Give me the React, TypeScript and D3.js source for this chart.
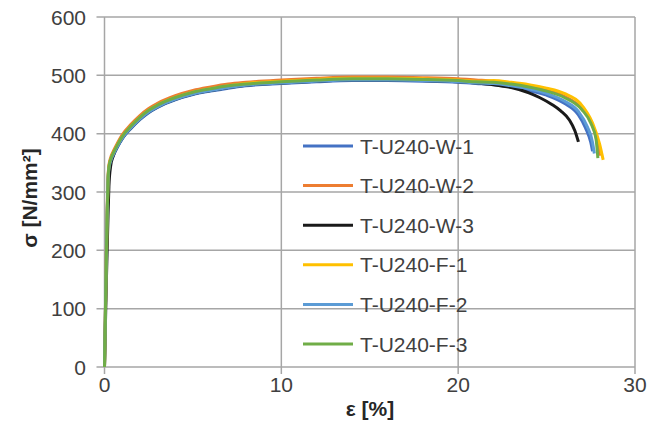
import React from "react";
import * as d3 from "d3";

const W = 664;
const H = 430;

const xTicks = [0, 10, 20, 30];
const yTicks = [0, 100, 200, 300, 400, 500, 600];

const seriesNames = ["T-U240-W-1", "T-U240-W-2", "T-U240-W-3", "T-U240-F-1", "T-U240-F-2", "T-U240-F-3"];
const seriesColors = ["#4472C4", "#ED7D31", "#1a1a1a", "#FFC000", "#5B9BD5", "#70AD47"];

// shared strain grid for the rising part [%]
const strainRise = [0, 0.05, 0.1, 0.15, 0.2, 0.25, 0.35, 0.5, 0.75, 1, 1.5, 2, 2.5, 3, 4, 5, 6, 7, 8, 10, 12, 14, 16, 18, 20, 21];

// stress on the rising part [N/mm²]
const w1Rise = [0, 90, 180, 260, 318, 339, 352, 363, 378, 391, 409, 424, 436, 445, 458, 467, 473, 478, 482, 486, 489, 491, 491, 490, 488, 486];
const w2Rise = [0, 95, 190, 270, 326, 346, 359, 370, 385, 398, 416, 431, 443, 452, 465, 474, 480, 485, 488, 492, 495, 497, 497, 496, 494, 492];
const w3Rise = [0, 70, 140, 200, 260, 310, 345, 362, 379, 392, 410, 425, 437, 446, 459, 468, 474, 479, 483, 487, 490, 492, 492, 491, 489, 487];
const f1Rise = [0, 88, 176, 255, 318, 343, 356, 367, 382, 395, 413, 428, 440, 449, 462, 471, 477, 482, 486, 490, 493, 495, 495, 494, 492, 490];
const f2Rise = [0, 92, 184, 262, 320, 340, 353, 364, 379, 392, 410, 425, 437, 446, 459, 468, 474, 479, 483, 487, 490, 492, 492, 491, 489, 487];
const f3Rise = [0, 90, 180, 260, 322, 343, 356, 367, 382, 395, 413, 428, 440, 449, 462, 471, 477, 482, 485, 489, 492, 494, 494, 493, 491, 489];

// necking / fracture tails
const w1TailStrain = [22, 23, 24, 25, 26, 26.8, 27.2, 27.5, 27.6];
const w1TailStress = [484, 480, 474, 466, 452, 432, 410, 385, 370];
const w2TailStrain = [22, 23, 24, 25, 26, 27, 27.5, 27.8, 28.0];
const w2TailStress = [490, 487, 482, 475, 464, 443, 422, 395, 362];
const w3TailStrain = [22, 23, 24, 24.6, 25.3, 25.8, 26.3, 26.6, 26.8];
const w3TailStress = [484, 479, 470, 462, 450, 439, 423, 405, 386];
const f1TailStrain = [22, 23, 24, 25, 26, 26.9, 27.6, 28.0, 28.2];
const f1TailStress = [491, 488, 484, 478, 469, 452, 418, 382, 355];
const f2TailStrain = [22, 23, 24, 25, 26, 26.8, 27.3, 27.6, 27.7];
const f2TailStress = [486, 482, 477, 469, 456, 438, 412, 385, 366];
const f3TailStrain = [22, 23, 24, 25, 26, 27, 27.5, 27.8, 27.9];
const f3TailStress = [488, 485, 480, 473, 462, 441, 418, 390, 358];

const rises = [w1Rise, w2Rise, w3Rise, f1Rise, f2Rise, f3Rise];
const tailStrains = [w1TailStrain, w2TailStrain, w3TailStrain, f1TailStrain, f2TailStrain, f3TailStrain];
const tailStresses = [w1TailStress, w2TailStress, w3TailStress, f1TailStress, f2TailStress, f3TailStress];

const FONT = "'Liberation Sans', Arial, sans-serif";

export default function App() {
  const left = 104.5;
  const right = 635;
  const top = 17;
  const bottom = 367;
  const x = d3.scaleLinear().domain([0, 30]).range([left, right]);
  const y = d3.scaleLinear().domain([0, 600]).range([bottom, top]);

  const line = d3
    .line<[number, number]>()
    .x((d) => x(d[0]))
    .y((d) => y(d[1]))
    .curve(d3.curveMonotoneX);

  const series = seriesNames.map((name, i) => {
    const pts: [number, number][] = strainRise.map((e, k) => [e, rises[i][k]]);
    tailStrains[i].forEach((e, k) => pts.push([e, tailStresses[i][k]]));
    return { name, color: seriesColors[i], pts };
  });

  const grid = "#a6a6a6";
  const legX = 303;
  const legY0 = 146;
  const legDy = 39.6;

  return (
    <svg width={W} height={H} style={{ position: "absolute", left: 0, top: 0, background: "#fff" }} fontFamily={FONT}>
      {/* gridlines */}
      {yTicks.map((t) => (
        <line key={"gy" + t} x1={left - 8} x2={right} y1={y(t)} y2={y(t)} stroke={grid} strokeWidth={1.5} />
      ))}
      {xTicks.map((t) => (
        <line key={"gx" + t} x1={x(t)} x2={x(t)} y1={top} y2={bottom + 7} stroke={grid} strokeWidth={1.5} />
      ))}
      {/* tick labels */}
      {yTicks.map((t) => (
        <text key={"ly" + t} x={86} y={y(t)} dy="0.36em" textAnchor="end" fontSize={21} fill="#404040">
          {t}
        </text>
      ))}
      {xTicks.map((t) => (
        <text key={"lx" + t} x={x(t)} y={392} textAnchor="middle" fontSize={21} fill="#404040">
          {t}
        </text>
      ))}
      {/* axis titles */}
      <text x={370} y={416} textAnchor="middle" fontSize={21} fontWeight="bold" fill="#262626">
        ε [%]
      </text>
      <text
        transform={`translate(37,198) rotate(-90)`}
        textAnchor="middle"
        fontSize={21}
        fontWeight="bold"
        fill="#262626"
      >
        σ [N/mm²]
      </text>
      {/* curves */}
      {series.map((s) => (
        <path key={s.name} d={line(s.pts) || ""} fill="none" stroke={s.color} strokeWidth={3} strokeLinejoin="round" />
      ))}
      {/* legend */}
      {series.map((s, i) => (
        <g key={"leg" + s.name}>
          <line x1={legX} x2={legX + 50} y1={legY0 + i * legDy} y2={legY0 + i * legDy} stroke={s.color} strokeWidth={3} />
          <text x={legX + 57} y={legY0 + i * legDy} dy="0.36em" fontSize={21} fill="#404040">
            {s.name}
          </text>
        </g>
      ))}
    </svg>
  );
}
